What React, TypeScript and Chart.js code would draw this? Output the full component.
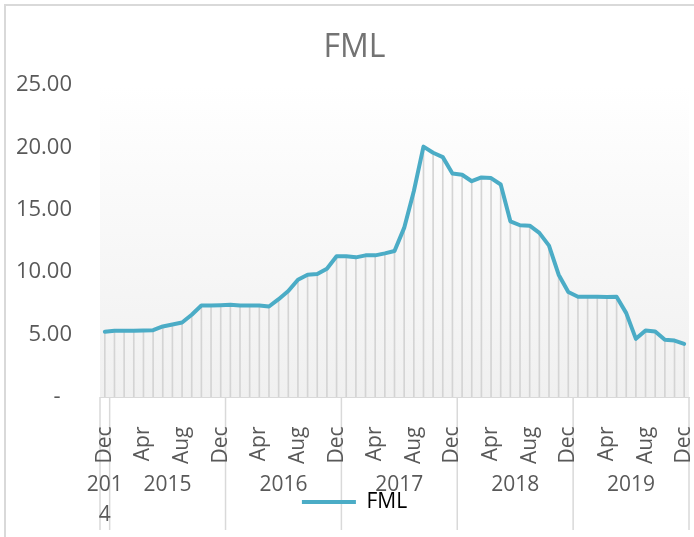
import React, { useEffect, useRef } from 'react';
import { Chart, registerables } from 'chart.js';

Chart.register(...registerables);

// ---- data ----
const monthLabels = [
  'Dec',
  'Jan', 'Feb', 'Mar', 'Apr', 'May', 'Jun', 'Jul', 'Aug', 'Sep', 'Oct', 'Nov', 'Dec',
  'Jan', 'Feb', 'Mar', 'Apr', 'May', 'Jun', 'Jul', 'Aug', 'Sep', 'Oct', 'Nov', 'Dec',
  'Jan', 'Feb', 'Mar', 'Apr', 'May', 'Jun', 'Jul', 'Aug', 'Sep', 'Oct', 'Nov', 'Dec',
  'Jan', 'Feb', 'Mar', 'Apr', 'May', 'Jun', 'Jul', 'Aug', 'Sep', 'Oct', 'Nov', 'Dec',
  'Jan', 'Feb', 'Mar', 'Apr', 'May', 'Jun', 'Jul', 'Aug', 'Sep', 'Oct', 'Nov', 'Dec',
];

const fmlValues = [
  5.22,
  5.30, 5.30, 5.30, 5.33, 5.35, 5.65, 5.81, 5.97, 6.59, 7.33, 7.33, 7.36,
  7.39, 7.33, 7.33, 7.33, 7.25, 7.84, 8.49, 9.40, 9.80, 9.85, 10.28, 11.27,
  11.27, 11.19, 11.35, 11.35, 11.51, 11.70, 13.55, 16.49, 20.06, 19.57, 19.22, 17.91,
  17.81, 17.29, 17.59, 17.54, 17.03, 14.08, 13.76, 13.73, 13.15, 12.13, 9.80, 8.41,
  8.03, 8.03, 8.03, 8.01, 8.03, 6.72, 4.66, 5.33, 5.25, 4.58, 4.52, 4.26,
];

const yearLabels = ['2014', '2015', '2016', '2017', '2018', '2019'];
const yearCounts = [1, 12, 12, 12, 12, 12];
const yTickValues = [0, 5, 10, 15, 20, 25];

const seriesName = 'FML';
const lineColor = '#4bacc6';
const dropColor = '#d4d4d4';
const textColor = '#595959';
const FONT = "'Open Sans', 'DejaVu Sans', sans-serif";

// group boundaries / centres in category units (mapped to pixels by the scale)
const yearBounds: number[] = [];
const yearCenters: number[] = [];
{
  let start = -0.5;
  yearBounds.push(start);
  yearCounts.forEach((c) => {
    yearCenters.push(start + c / 2);
    start += c;
    yearBounds.push(start);
  });
}

const noLabelClip = (s: any) => {
  s._computeLabelArea = () => undefined;
};

const plotDecor = {
  id: 'plotDecor',
  beforeDraw(chart: any) {
    const { ctx, chartArea } = chart;
    const g = ctx.createLinearGradient(0, chartArea.top, 0, chartArea.bottom);
    g.addColorStop(0, '#ffffff');
    g.addColorStop(1, '#f0f0f0');
    ctx.save();
    ctx.fillStyle = g;
    ctx.fillRect(chartArea.left, chartArea.top, chartArea.right - chartArea.left, chartArea.bottom - chartArea.top);
    const xs = chart.scales.x2;
    ctx.strokeStyle = '#d9d9d9';
    ctx.lineWidth = 1.5;
    const bottom = chart.height - 7;
    yearBounds.forEach((b) => {
      const px = xs.getPixelForValue(b);
      ctx.beginPath();
      ctx.moveTo(px, chartArea.bottom);
      ctx.lineTo(px, bottom);
      ctx.stroke();
    });
    ctx.restore();
  },
};

export default function App() {
  const ref = useRef<HTMLCanvasElement | null>(null);

  useEffect(() => {
    if (!ref.current) return;
    const chart = new Chart(ref.current, {
      type: 'line',
      data: {
        labels: monthLabels,
        datasets: [
          {
            type: 'line',
            label: seriesName,
            data: fmlValues,
            borderColor: lineColor,
            backgroundColor: lineColor,
            borderWidth: 4,
            pointRadius: 0,
            tension: 0,
            borderJoinStyle: 'round',
            borderCapStyle: 'round',
            order: 1,
          } as any,
          {
            type: 'bar',
            label: 'drop',
            data: fmlValues,
            backgroundColor: dropColor,
            borderWidth: 0,
            barThickness: 1,
            order: 2,
          } as any,
        ],
      },
      options: {
        responsive: false,
        animation: false,
        events: [],
        layout: { padding: { left: 20, right: 5, top: 4, bottom: 14.5 } },
        plugins: {
          tooltip: { enabled: false },
          title: {
            display: true,
            text: seriesName,
            color: '#737373',
            font: { family: FONT, size: 32, weight: 'normal', lineHeight: 1.2 },
            padding: { top: 25, bottom: 17.6 },
          },
          legend: {
            display: true,
            position: 'bottom',
            labels: {
              color: textColor,
              font: { family: FONT, size: 21 },
              boxWidth: 54,
              boxHeight: 4,
              padding: 10,
              generateLabels: () => [
                {
                  text: seriesName,
                  fillStyle: lineColor,
                  strokeStyle: lineColor,
                  lineWidth: 0,
                  datasetIndex: 0,
                  hidden: false,
                } as any,
              ],
            },
          },
        },
        scales: {
          x: {
            type: 'category',
            offset: true,
            grid: { display: true, drawOnChartArea: false, drawTicks: false },
            border: { display: true, color: '#d9d9d9', width: 1 },
            ticks: {
              autoSkip: false,
              minRotation: 90,
              maxRotation: 90,
              padding: 29.5,
              color: textColor,
              font: { family: FONT, size: 21 },
              callback: (_v: any, i: number) => (i % 4 === 0 ? monthLabels[i] : ''),
            },
            afterFit: (s: any) => {
              s.height = 65;
              s.paddingLeft = 0;
              s.paddingRight = 0;
              noLabelClip(s);
            },
          },
          x2: {
            type: 'linear',
            position: 'bottom',
            min: yearBounds[0],
            max: yearBounds[yearBounds.length - 1],
            grid: { display: false, drawTicks: false },
            border: { display: false },
            afterBuildTicks: (s: any) => {
              s.ticks = yearCenters.map((v) => ({ value: v }));
            },
            ticks: {
              autoSkip: false,
              minRotation: 0,
              maxRotation: 0,
              padding: 8,
              color: textColor,
              font: { family: FONT, size: 21, lineHeight: 30 / 21 },
              callback: (_v: any, i: number) =>
                yearCounts[i] === 1 ? [yearLabels[i].slice(0, 3), yearLabels[i].slice(3)] : yearLabels[i],
            },
            afterFit: (s: any) => {
              s.height = 19.5;
              s.paddingLeft = 0;
              s.paddingRight = 0;
              noLabelClip(s);
            },
          } as any,
          y: {
            min: 0,
            max: 25,
            grid: { display: false, drawTicks: false },
            border: { display: false },
            afterBuildTicks: (s: any) => {
              s.ticks = yTickValues.map((v) => ({ value: v }));
            },
            ticks: {
              padding: 28,
              color: textColor,
              font: { family: FONT, size: 22 },
              callback: (v: any) => (Number(v) === 0 ? '-  ' : Number(v).toFixed(2)),
            },
            afterFit: (s: any) => {
              s.width = 80;
              noLabelClip(s);
            },
          },
        },
      } as any,
      plugins: [plotDecor],
    });
    return () => chart.destroy();
  }, []);

  return (
    <div style={{ position: 'fixed', left: 0, top: 0, width: 694, height: 537, overflow: 'hidden', background: '#fff' }}>
      <div
        style={{
          position: 'absolute',
          left: 4,
          top: 4,
          width: 800,
          height: 800,
          border: '2px solid #d9d9d9',
          boxSizing: 'border-box',
        }}
      />
      <canvas ref={ref} width={694} height={537} style={{ position: 'absolute', left: 0, top: 0 }} />
    </div>
  );
}
